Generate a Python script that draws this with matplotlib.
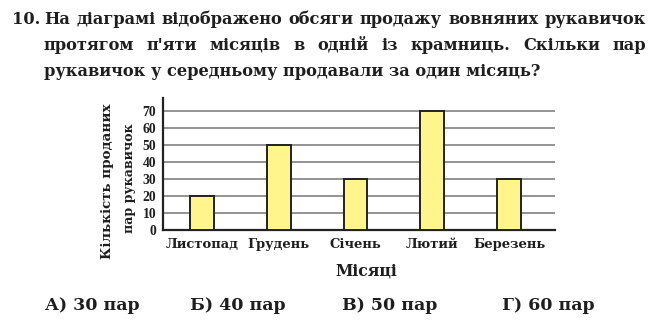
import matplotlib
matplotlib.use("Agg")
import matplotlib.pyplot as plt

months = ["Листопад", "Грудень", "Січень", "Лютий", "Березень"]
sales = [20, 50, 30, 70, 30]
yticks = [0, 10, 20, 30, 40, 50, 60, 70]
question_lines = [
    "На діаграмі відображено обсяги продажу вовняних рукавичок",
    "протягом п'яти місяців в одній із крамниць. Скільки пар",
    "рукавичок у середньому продавали за один місяць?",
]
answers = ["А) 30 пар", "Б) 40 пар", "В) 50 пар", "Г) 60 пар"]
ylabel_lines = ["Кількість проданих", "пар рукавичок"]
xlabel = "Місяці"

FONT = "DejaVu Serif"
TXT = "#1e1e1e"
W, H = 670, 324
fig = plt.figure(figsize=(W / 100, H / 100), dpi=100)
fig.patch.set_facecolor("white")
fig.canvas.draw()
renderer = fig.canvas.get_renderer()


def fit_size(text, target, base=10, family=FONT):
    t = fig.text(0.5, 0.5, text, fontsize=base, fontweight="bold", family=family)
    bb = t.get_window_extent(renderer)
    t.remove()
    return base * target / bb.width


# --- Question text ---
q_size = fit_size(question_lines[0], 600)
line_y = [19, 45, 71]
x_left, x_right = 44, 646
fig.text(12 / W, 1 - line_y[0] / H, "10.", fontsize=q_size, fontweight="bold", family=FONT,
         va="center", ha="left", color=TXT)
for i, (line, yy) in enumerate(zip(question_lines, line_y)):
    words = line.split(" ")
    if i < 2:
        arts = [fig.text(0, 1 - yy / H, w, fontsize=q_size, fontweight="bold", family=FONT,
                         va="center", ha="left", color=TXT) for w in words]
        widths = [a.get_window_extent(renderer).width for a in arts]
        gap = (x_right - x_left - sum(widths)) / (len(words) - 1)
        x = x_left
        for a, wd in zip(arts, widths):
            a.set_x(x / W)
            x += wd + gap
    else:
        fig.text(x_left / W, 1 - yy / H, line, fontsize=q_size, fontweight="bold", family=FONT,
                 va="center", ha="left", color=TXT)

# --- Chart ---
ax = fig.add_axes([163 / W, 1 - 230 / H, (555 - 163) / W, (230 - 98) / H])
x = list(range(len(months)))
ax.bar(x, sales, width=0.31, color="#FFF58C", edgecolor="#222222", linewidth=1.4, zorder=3)
ax.set_xlim(-0.51, 4.6)
ax.set_ylim(0, 77.6)
ax.set_yticks(yticks)
ytick_size = fit_size("70", 13.5, family="Liberation Serif")
xtick_size = fit_size(months[0], 73)
ax.set_yticklabels([str(v) for v in yticks], fontsize=ytick_size, fontweight="bold",
                   family="Liberation Serif", color=TXT)
ax.set_xticks(x)
ax.set_xticklabels(months, fontsize=xtick_size, fontweight="bold", family=FONT, color=TXT)
ax.tick_params(length=0)
ax.tick_params(axis="x", pad=6)
ax.tick_params(axis="y", pad=5)
for v in yticks[1:]:
    ax.axhline(v, color="#8a8a8a", linewidth=1.3, zorder=1)
for s in ["top", "right"]:
    ax.spines[s].set_visible(False)
ax.spines["left"].set_linewidth(1.6)
ax.spines["bottom"].set_linewidth(1.6)
ax.spines["left"].set_color("#222222")
ax.spines["bottom"].set_color("#222222")

fig.text(366 / W, 1 - 271 / H, xlabel, fontsize=fit_size(xlabel, 62), fontweight="bold",
         family=FONT, ha="center", va="center", color=TXT)

fig.text(107 / W, 1 - 181 / H, ylabel_lines[0], rotation=90,
         fontsize=fit_size(ylabel_lines[0], 155), fontweight="bold",
         family=FONT, ha="center", va="center", color=TXT)
fig.text(129 / W, 1 - 178 / H, ylabel_lines[1], rotation=90,
         fontsize=fit_size(ylabel_lines[1], 110), fontweight="bold",
         family=FONT, ha="center", va="center", color=TXT)

# --- Answers ---
ans_size = fit_size(answers[0], 95)
ans_x = [45, 190, 342, 502]
for a, xx in zip(answers, ans_x):
    fig.text(xx / W, 1 - 305 / H, a, fontsize=ans_size, fontweight="bold", family=FONT,
             ha="left", va="center", color=TXT)

fig.savefig("out.png", dpi=100, facecolor="white")
